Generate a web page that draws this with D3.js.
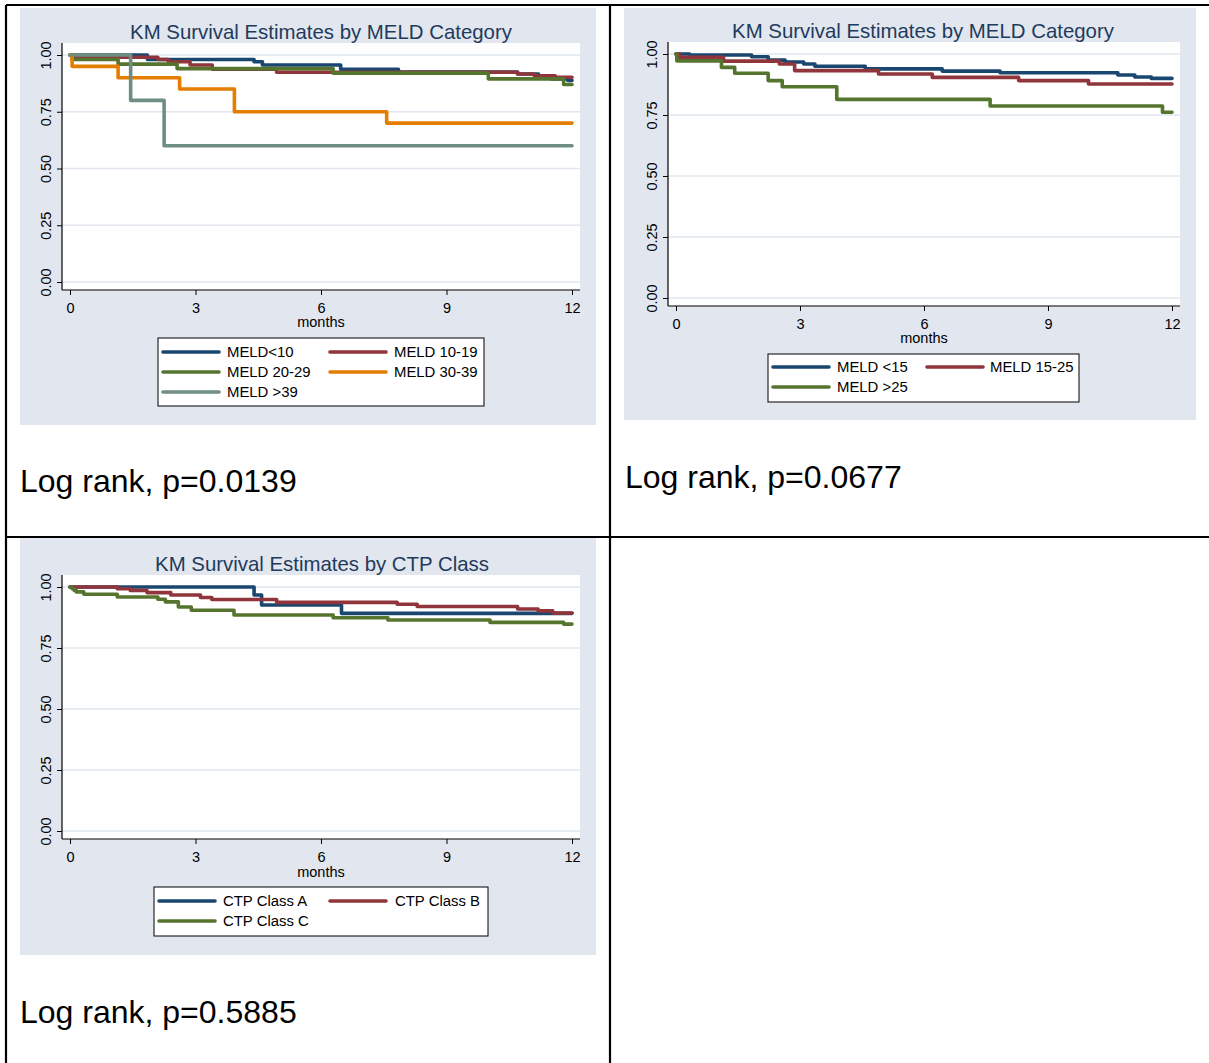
<!DOCTYPE html>
<html>
<head>
<meta charset="utf-8">
<script src="https://cdn.jsdelivr.net/npm/d3@7"></script>
<style>
  body { margin: 0; background: #fff; }
  text { font-family: "Liberation Sans", Arial, sans-serif; }
</style>
</head>
<body>
<div id="chart"></div>
<script>
// step points [months, survival]
var meldLt10   = [[0,1],[1.85,0.98],[4.4,0.97],[4.6,0.956],[6.47,0.937],[7.85,0.925],[10.7,0.916],[11.2,0.905],[11.5,0.895],[11.9,0.888]];
var meld10_19  = [[0,1],[0.1,0.995],[1.2,0.99],[2.1,0.98],[2.35,0.97],[2.87,0.956],[3.4,0.937],[4.94,0.924],[10.7,0.916],[11.1,0.908],[11.6,0.902]];
var meld20_29  = [[0,1],[0.05,0.98],[1.15,0.96],[2.56,0.94],[6.29,0.92],[10.0,0.895],[11.8,0.87]];
var meld30_39  = [[0,1],[0.05,0.95],[1.15,0.9],[2.62,0.85],[3.93,0.75],[7.57,0.7]];
var meldGt39   = [[0,1],[1.45,0.8],[2.25,0.6]];

var meldLt15   = [[0,1],[0.33,0.996],[1.83,0.989],[2.23,0.975],[2.64,0.967],[3.09,0.959],[3.36,0.95],[4.58,0.939],[6.44,0.93],[7.84,0.923],[10.69,0.914],[11.1,0.906],[11.5,0.9]];
var meld15_25  = [[0,1],[0.09,0.986],[1.15,0.971],[2.5,0.959],[2.87,0.932],[4.9,0.918],[6.2,0.904],[8.29,0.891],[9.98,0.877]];
var meldGt25   = [[0,1],[0.02,0.972],[1.1,0.945],[1.42,0.921],[2.23,0.891],[2.57,0.866],[3.89,0.814],[7.6,0.787],[11.77,0.761]];

var ctpA       = [[0,1],[4.4,0.967],[4.58,0.926],[6.49,0.892]];
var ctpB       = [[0,1],[1.13,0.993],[1.44,0.986],[1.84,0.977],[2.41,0.967],[3.12,0.957],[3.39,0.949],[4.94,0.937],[7.82,0.929],[8.3,0.92],[10.7,0.91],[11.19,0.902],[11.54,0.893]];
var ctpC       = [[0,1],[0.05,0.993],[0.1,0.986],[0.15,0.98],[0.33,0.97],[1.13,0.959],[2.1,0.95],[2.28,0.939],[2.59,0.918],[2.9,0.905],[3.92,0.885],[6.29,0.874],[7.6,0.865],[10.04,0.855],[11.8,0.848]];

var xTicks = [0, 3, 6, 9, 12];
var yTicks = [0, 0.25, 0.5, 0.75, 1];

var panelTitles = ["KM Survival Estimates by MELD Category", "KM Survival Estimates by MELD Category", "KM Survival Estimates by CTP Class"];
var pValues = ["Log rank, p=0.0139", "Log rank, p=0.0677", "Log rank, p=0.5885"];

var navy = "#1a476f", maroon = "#90353b", green = "#55752f", orange = "#e37e00", teal = "#6e8e84";

var panels = [
  {
    series: [
      {name: "MELD<10", data: meldLt10, color: navy},
      {name: "MELD 10-19", data: meld10_19, color: maroon},
      {name: "MELD 20-29", data: meld20_29, color: green},
      {name: "MELD 30-39", data: meld30_39, color: orange},
      {name: "MELD >39", data: meldGt39, color: teal}
    ],
    bg: [20, 8, 576, 417], x0: 70, x1: 572, yTop: 55, yBot: 282,
    titleX: 321, titleY: 39, tickY: 313, monthsY: 327,
    legend: {x: 158, y: 338, w: 326, h: 68, rowY: [352, 372, 392], col: [[163, 227], [330, 394]]},
    pText: [20, 492]
  },
  {
    series: [
      {name: "MELD <15", data: meldLt15, color: navy},
      {name: "MELD 15-25", data: meld15_25, color: maroon},
      {name: "MELD >25", data: meldGt25, color: green}
    ],
    bg: [624, 8, 572, 412], x0: 676, x1: 1172, yTop: 54, yBot: 298,
    titleX: 923, titleY: 38, tickY: 329, monthsY: 343,
    legend: {x: 768, y: 354, w: 311, h: 48, rowY: [367, 387], col: [[773, 837], [927, 990]]},
    pText: [625, 488]
  },
  {
    series: [
      {name: "CTP Class A", data: ctpA, color: navy},
      {name: "CTP Class B", data: ctpB, color: maroon},
      {name: "CTP Class C", data: ctpC, color: green}
    ],
    bg: [20, 538, 576, 417], x0: 70, x1: 572, yTop: 587, yBot: 831,
    titleX: 322, titleY: 571, tickY: 862, monthsY: 877,
    legend: {x: 154, y: 887, w: 334, h: 49, rowY: [901, 921], col: [[159, 223], [330, 395]]},
    pText: [20, 1023]
  }
];

var svg = d3.select("#chart").append("svg")
  .attr("width", 1209)
  .attr("height", 1063);

panels.forEach(function(p, i) {
  var g = svg.append("g");

  // outer grey graph region
  g.append("rect")
    .attr("x", p.bg[0]).attr("y", p.bg[1])
    .attr("width", p.bg[2]).attr("height", p.bg[3])
    .attr("fill", "#e1e6ef");

  var x = d3.scaleLinear().domain([0, 12]).range([p.x0, p.x1]);
  var y = d3.scaleLinear().domain([0, 1]).range([p.yBot, p.yTop]);

  var left = x(0) - 8, right = x(12) + 8;
  var top = y(1) - 12, bottom = y(0) + 8;

  // white plot region
  g.append("rect")
    .attr("x", left).attr("y", top)
    .attr("width", right - left).attr("height", bottom - top)
    .attr("fill", "#fff");

  // gridlines
  g.selectAll(".grid")
    .data(yTicks)
    .enter()
    .append("line")
    .attr("x1", left).attr("x2", right)
    .attr("y1", d => y(d)).attr("y2", d => y(d))
    .attr("stroke", "#e1e6ef")
    .attr("stroke-width", 1.5);

  // title
  g.append("text")
    .attr("x", p.titleX).attr("y", p.titleY)
    .attr("text-anchor", "middle")
    .attr("font-size", "20.4px")
    .attr("fill", "#1f3b5c")
    .text(panelTitles[i]);

  // curves
  var line = d3.line()
    .x(d => x(d[0]))
    .y(d => y(d[1]))
    .curve(d3.curveStepAfter);

  p.series.forEach(function(s) {
    var pts = s.data.slice();
    pts.push([12, pts[pts.length - 1][1]]);
    g.append("path")
      .attr("d", line(pts))
      .attr("fill", "none")
      .attr("stroke", s.color)
      .attr("stroke-width", 3.6)
      .attr("stroke-linejoin", "round")
      .attr("stroke-linecap", "round");
  });

  // y axis
  var yAxis = d3.axisLeft(y)
    .tickValues(yTicks)
    .tickFormat(d3.format(".2f"))
    .tickSize(5)
    .tickPadding(0);

  var ya = g.append("g")
    .attr("transform", `translate(${left}, 0)`)
    .call(yAxis);
  ya.select(".domain").remove();
  ya.selectAll("text")
    .attr("transform", "rotate(-90)")
    .attr("text-anchor", "middle")
    .attr("x", 0)
    .attr("y", -11)
    .attr("dy", "0")
    .attr("font-size", "14.5px")
    .attr("font-family", "Liberation Sans, Arial, sans-serif")
    .attr("fill", "#000");

  // x axis
  var xAxis = d3.axisBottom(x)
    .tickValues(xTicks)
    .tickSize(5)
    .tickPadding(3);

  var xa = g.append("g")
    .attr("transform", `translate(0, ${bottom})`)
    .call(xAxis);
  xa.select(".domain").remove();
  xa.selectAll("text")
    .attr("y", p.tickY - bottom)
    .attr("dy", "0")
    .attr("font-size", "14.5px")
    .attr("font-family", "Liberation Sans, Arial, sans-serif")
    .attr("fill", "#000");

  // axis lines
  g.append("line")
    .attr("x1", left).attr("x2", left)
    .attr("y1", top).attr("y2", bottom)
    .attr("stroke", "#000").attr("stroke-width", 1.2);
  g.append("line")
    .attr("x1", left).attr("x2", right)
    .attr("y1", bottom).attr("y2", bottom)
    .attr("stroke", "#000").attr("stroke-width", 1.2);

  g.append("text")
    .attr("x", (p.x0 + p.x1) / 2).attr("y", p.monthsY)
    .attr("text-anchor", "middle")
    .attr("font-size", "14.5px")
    .text("months");

  // legend
  var L = p.legend;
  g.append("rect")
    .attr("x", L.x).attr("y", L.y)
    .attr("width", L.w).attr("height", L.h)
    .attr("fill", "#fff")
    .attr("stroke", "#000")
    .attr("stroke-width", 1);

  p.series.forEach(function(s, k) {
    var row = Math.floor(k / 2), col = k % 2;
    var ly = L.rowY[row];
    g.append("line")
      .attr("x1", L.col[col][0]).attr("x2", L.col[col][0] + 56)
      .attr("y1", ly).attr("y2", ly)
      .attr("stroke", s.color)
      .attr("stroke-width", 3.6)
      .attr("stroke-linecap", "round");
    g.append("text")
      .attr("x", L.col[col][1]).attr("y", ly + 5)
      .attr("font-size", "14.9px")
      .attr("fill", "#000")
      .text(s.name);
  });

  // log rank p value
  g.append("text")
    .attr("x", p.pText[0]).attr("y", p.pText[1])
    .attr("font-size", "32px")
    .attr("fill", "#000")
    .text(pValues[i]);
});

// table borders
var borders = [
  [6, 5, 1209, 5], [6, 5, 6, 1063], [610, 5, 610, 1063], [6, 537, 1209, 537]
];
svg.selectAll(".border")
  .data(borders)
  .enter()
  .append("line")
  .attr("x1", d => d[0]).attr("y1", d => d[1])
  .attr("x2", d => d[2]).attr("y2", d => d[3])
  .attr("stroke", "#000")
  .attr("stroke-width", 2.2);
</script>
</body>
</html>
